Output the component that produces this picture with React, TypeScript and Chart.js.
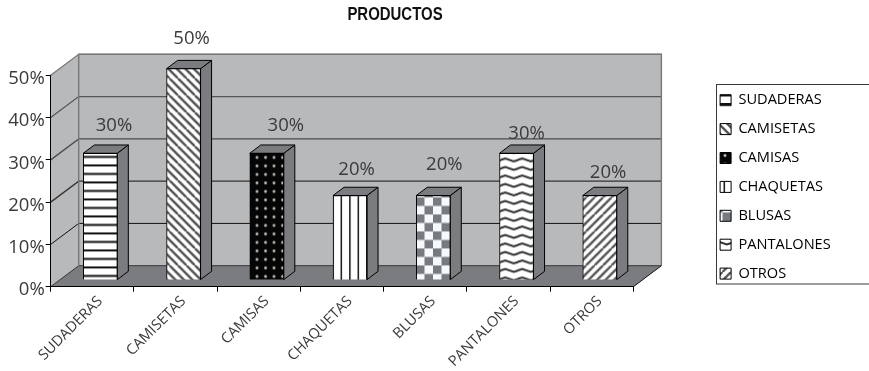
import React, { useEffect, useRef } from "react";
import { Chart, registerables } from "chart.js";

Chart.register(...registerables);

const categories = ["SUDADERAS", "CAMISETAS", "CAMISAS", "CHAQUETAS", "BLUSAS", "PANTALONES", "OTROS"];
const shares = [30, 50, 30, 20, 20, 30, 20];
const yTicks = [0, 10, 20, 30, 40, 50];

// Hand placement of each value label relative to the top of its bar.
const labelShiftX = [13.7, 8, 19, 6.5, 11, 10, 8.3];
const labelShiftY = [-27.4, -29.7, -27.4, -26, -31, -19.1, -22.7];

const FONT = '"Open Sans", "Liberation Sans", sans-serif';
const TITLE_FONT = '"Liberation Sans", Arial, sans-serif';
const INK = "#3a3a3d";
const WALL = "#b8b9bb";
const FLOOR = "#7b7c80";
const WALL_DEPTH = { x: 28, y: -21 };
const BAR_DEPTH = { x: 11, y: -8.3 };
const BAR_SHIFT = { x: 8, y: -6.6 };
const AREA = { left: 50.7, right: 633.4, top: 75.3, bottom: 286.7 };
const TITLE_CENTER = 395;
const TITLE_SQUEEZE = 0.83;

type Painter = (c: CanvasRenderingContext2D, t: number) => void;

const diagonal = (color: string, width: number, dir: 1 | -1): Painter => (c, t) => {
  c.fillStyle = "#fff";
  c.fillRect(0, 0, t, t);
  c.strokeStyle = color;
  c.lineWidth = width;
  for (let a = -2 * t; a <= 2 * t; a += t / 2) {
    c.beginPath();
    c.moveTo(a, dir === 1 ? 0 : t);
    c.lineTo(a + t, dir === 1 ? t : 0);
    c.stroke();
  }
};

const painters: Painter[] = [
  // horizontal bands
  (c, t) => {
    c.fillStyle = "#fff";
    c.fillRect(0, 0, t, t);
    c.fillStyle = "#111";
    c.fillRect(0, 1, t, 2);
    c.fillRect(0, 9.5, t, 2);
  },
  diagonal("#555", 2.4, 1),
  // white dots on black
  (c, t) => {
    c.fillStyle = "#050505";
    c.fillRect(0, 0, t, t);
    for (const x of [2.5, 11]) {
      for (const y of [2.5, 11]) {
        const g = c.createRadialGradient(x, y, 0, x, y, 2.4);
        g.addColorStop(0, "#e8e8e8");
        g.addColorStop(0.5, "#8a8a8a");
        g.addColorStop(1, "rgba(0,0,0,0)");
        c.fillStyle = g;
        c.fillRect(x - 3, y - 3, 6, 6);
      }
    }
  },
  // vertical bands
  (c, t) => {
    c.fillStyle = "#fff";
    c.fillRect(0, 0, t, t);
    c.fillStyle = "#222";
    c.fillRect(1, 0, 1.6, t);
    c.fillRect(9.5, 0, 1.6, t);
  },
  // checks
  (c, t) => {
    c.fillStyle = "#f6fafc";
    c.fillRect(0, 0, t, t);
    c.fillStyle = "#777a7e";
    c.fillRect(0, 0, t / 2, t / 2);
    c.fillRect(t / 2, t / 2, t / 2, t / 2);
  },
  // waves
  (c, t) => {
    c.fillStyle = "#fff";
    c.fillRect(0, 0, t, t);
    c.strokeStyle = "#333";
    c.lineWidth = 2;
    for (const y of [-t / 2, 0, t / 2, t]) {
      c.beginPath();
      c.moveTo(-2, y + 5.5);
      c.lineTo(t / 4, y + 3.5);
      c.lineTo((3 * t) / 4, y + 6.5);
      c.lineTo(t + 2, y + 4.5);
      c.stroke();
    }
  },
  diagonal("#5a5a5a", 2.4, -1),
];

function makePatterns(ctx: CanvasRenderingContext2D) {
  return painters.map((paint) => {
    const t = 17;
    const tile = document.createElement("canvas");
    tile.width = t;
    tile.height = t;
    paint(tile.getContext("2d") as CanvasRenderingContext2D, t);
    return ctx.createPattern(tile, "repeat") as CanvasPattern;
  });
}

// Walls, floor and their grid lines, placed from the value scale.
const stagePlugin = {
  id: "stage",
  afterLayout(chart: any) {
    // The title and the legend sit outside the plotting frame.
    const title = chart.titleBlock;
    title.left = TITLE_CENTER - 100;
    title.right = TITLE_CENTER + 100;
    if (!title.squeezed) {
      // No narrow bold face is installed, so the heading is condensed horizontally.
      const draw = title.draw.bind(title);
      title.draw = () => {
        const c = chart.ctx;
        c.save();
        c.translate(TITLE_CENTER, 0);
        c.scale(TITLE_SQUEEZE, 1);
        c.translate(-TITLE_CENTER, 0);
        draw();
        c.restore();
      };
      title.squeezed = true;
    }
    const lg = chart.legend;
    lg.left = 705.8;
    lg.right = 869;
    lg.top = 78.6;
    lg.bottom = 371;
  },
  beforeDraw(chart: any) {
    const { ctx, chartArea: a, scales } = chart;
    const y = scales.y;
    const d = WALL_DEPTH;
    const top = y.getPixelForValue(yTicks[yTicks.length - 1]);
    const base = y.getPixelForValue(0);
    const poly = (pts: number[][], fill?: string) => {
      ctx.beginPath();
      pts.forEach(([px, py], i) => (i ? ctx.lineTo(px, py) : ctx.moveTo(px, py)));
      ctx.closePath();
      if (fill) {
        ctx.fillStyle = fill;
        ctx.fill();
      }
    };
    ctx.save();
    ctx.fillStyle = "#fff";
    ctx.fillRect(0, 0, chart.width, chart.height);
    poly([[a.left, base], [a.left + d.x, base + d.y], [a.left + d.x, top + d.y], [a.left, top]], WALL);
    ctx.fillStyle = WALL;
    ctx.fillRect(a.left + d.x, top + d.y, a.right - a.left, base - top);
    poly([[a.left, base], [a.right, base], [a.right + d.x, base + d.y], [a.left + d.x, base + d.y]], FLOOR);

    const lineColors = ["#333", "#111", "#333", "#4c4c4e", "#555658", "#77787a"];
    yTicks.forEach((v, i) => {
      const py = y.getPixelForValue(v);
      ctx.strokeStyle = lineColors[i];
      ctx.lineWidth = i >= 2 ? 1.3 : 1;
      ctx.beginPath();
      ctx.moveTo(a.left, py);
      ctx.lineTo(a.left + d.x, py + d.y);
      ctx.lineTo(a.right + d.x, py + d.y);
      ctx.stroke();
    });
    ctx.strokeStyle = "#77787a";
    ctx.lineWidth = 1.4;
    ctx.beginPath();
    ctx.moveTo(a.left + d.x, base + d.y);
    ctx.lineTo(a.left + d.x, top + d.y);
    ctx.lineTo(a.right + d.x, top + d.y);
    ctx.lineTo(a.right + d.x, base + d.y);
    ctx.stroke();
    ctx.strokeStyle = "#111";
    ctx.lineWidth = 1;
    ctx.beginPath();
    ctx.moveTo(a.right, base);
    ctx.lineTo(a.right + d.x, base + d.y);
    ctx.stroke();
    ctx.restore();
  },
  beforeDatasetsDraw(chart: any) {
    const { ctx } = chart;
    ctx.save();
    ctx.translate(BAR_SHIFT.x, BAR_SHIFT.y);
    // Side and top faces of each prism, behind the front face the library draws.
    const d = BAR_DEPTH;
    chart.getDatasetMeta(0).data.forEach((bar: any) => {
      const l = bar.x - bar.width / 2;
      const r = bar.x + bar.width / 2;
      ctx.fillStyle = FLOOR;
      ctx.strokeStyle = "#000";
      ctx.lineWidth = 1;
      ctx.beginPath();
      ctx.moveTo(r, bar.y);
      ctx.lineTo(r + d.x, bar.y + d.y);
      ctx.lineTo(r + d.x, bar.base + d.y);
      ctx.lineTo(r, bar.base);
      ctx.closePath();
      ctx.fill();
      ctx.stroke();
      ctx.beginPath();
      ctx.moveTo(l, bar.y);
      ctx.lineTo(l + d.x, bar.y + d.y);
      ctx.lineTo(r + d.x, bar.y + d.y);
      ctx.lineTo(r, bar.y);
      ctx.closePath();
      ctx.fill();
      ctx.stroke();
    });
  },
  afterDatasetsDraw(chart: any) {
    const { ctx } = chart;
    ctx.restore();
    ctx.save();
    ctx.fillStyle = INK;
    ctx.font = `18.5px ${FONT}`;
    ctx.textAlign = "center";
    ctx.textBaseline = "middle";
    chart.getDatasetMeta(0).data.forEach((bar: any, i: number) => {
      ctx.fillText(
        `${shares[i]}%`,
        bar.x + BAR_SHIFT.x + labelShiftX[i],
        bar.y + BAR_SHIFT.y + labelShiftY[i],
      );
    });
    ctx.restore();
  },
  afterDraw(chart: any) {
    const { ctx } = chart;
    ctx.save();
    ctx.strokeStyle = "#3a3a3a";
    ctx.lineWidth = 1;
    ctx.strokeRect(716.5, 84.5, 220, 199.5);
    ctx.restore();
  },
};

export default function App() {
  const ref = useRef<HTMLCanvasElement>(null);

  useEffect(() => {
    const canvas = ref.current as HTMLCanvasElement;
    const ctx = canvas.getContext("2d") as CanvasRenderingContext2D;
    const patterns = makePatterns(ctx);

    const chart = new Chart(canvas, {
      type: "bar",
      data: {
        labels: categories,
        datasets: [
          {
            data: shares,
            backgroundColor: patterns,
            borderColor: "#000",
            borderWidth: 1,
            barThickness: 34,
            clip: false,
          },
        ],
      },
      plugins: [stagePlugin],
      options: {
        animation: false,
        responsive: false,
        layout: {
          padding: { left: 0, top: 0, right: 869 - AREA.right, bottom: 0 },
        },
        plugins: {
          tooltip: { enabled: false },
          title: {
            display: true,
            text: "PRODUCTOS",
            color: "#111",
            font: { family: TITLE_FONT, size: 18, weight: "bold", lineHeight: 1.2 },
            padding: { top: 4, bottom: AREA.top - 4 - 21.6 },
          },
          legend: {
            display: true,
            position: "chartArea",
            align: "start",
            labels: {
              boxWidth: 11,
              boxHeight: 11,
              padding: 14.3,
              color: INK,
              font: { family: FONT, size: 14.6 },
              generateLabels: () =>
                categories.map((text, i) => ({
                  text,
                  fillStyle: patterns[i],
                  strokeStyle: "#000",
                  lineWidth: 1,
                  index: i,
                  hidden: false,
                })),
            },
          },
        },
        scales: {
          x: {
            afterFit: (s: any) => {
              s.height = 371 - AREA.bottom;
            },
            border: { color: "#000", width: 1 },
            grid: { offset: true, drawOnChartArea: false, tickLength: 5, color: "#000" },
            ticks: {
              autoSkip: false,
              minRotation: 45,
              maxRotation: 45,
              labelOffset: 8,
              padding: 1,
              color: INK,
              font: { family: FONT, size: 14.6 },
            },
          },
          y: {
            min: 0,
            max: 50,
            afterFit: (s: any) => {
              s.width = AREA.left;
            },
            afterBuildTicks: (s: any) => {
              s.ticks = yTicks.map((value) => ({ value }));
            },
            border: { color: "#000", width: 1 },
            grid: { drawOnChartArea: false, tickLength: 5, color: "#000" },
            ticks: {
              padding: 1,
              labelOffset: 3.5,
              color: INK,
              font: { family: FONT, size: 18.5 },
              callback: (v: any) => `${v}%`,
            },
          },
        },
      },
    } as any);

    return () => chart.destroy();
  }, []);

  return (
    <div style={{ position: "fixed", left: 0, top: 0, width: 869, height: 371, background: "#fff" }}>
      <canvas ref={ref} width={869} height={371} style={{ display: "block" }} />
    </div>
  );
}
